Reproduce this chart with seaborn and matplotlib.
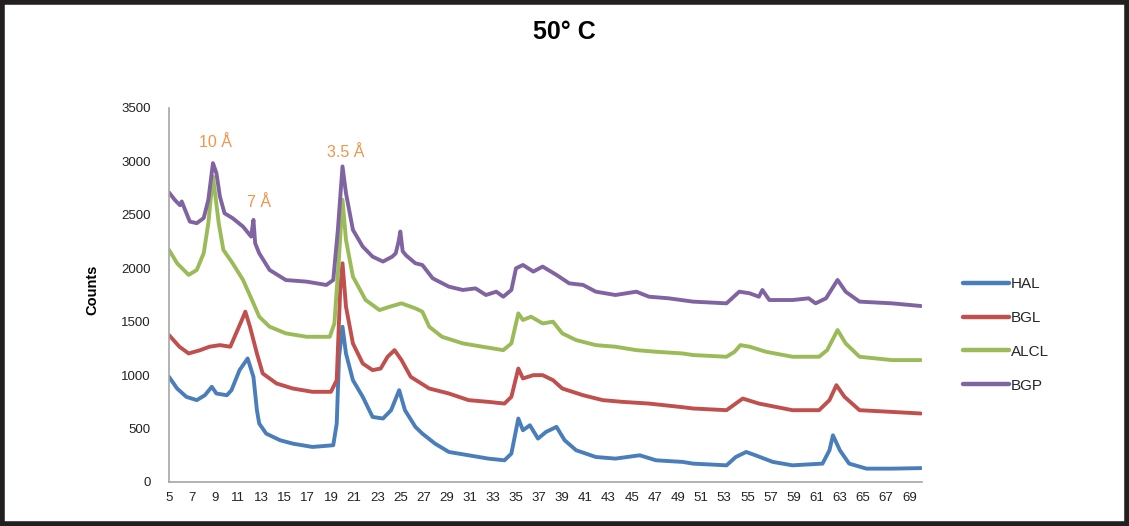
import matplotlib
matplotlib.use("Agg")
import matplotlib.pyplot as plt
import matplotlib.patches as mpatches
from matplotlib.lines import Line2D
import seaborn as sns
import pandas as pd

# ---------------- data ----------------
series_names = ["HAL", "BGL", "ALCL", "BGP"]
series_colors = ["#4A7EBB", "#C0504D", "#9BBB59", "#8064A2"]

hal_x = [5.0, 5.7, 6.5, 7.4, 8.1, 8.7, 9.1, 10.0, 10.4, 11.1, 11.8, 12.3, 12.6, 12.8,
         13.4, 14.6, 15.7, 17.4, 19.2, 19.5, 19.7, 20.0, 20.3, 20.9, 21.75, 22.6,
         23.5, 24.2, 24.9, 25.4, 26.3, 26.9, 28.0, 29.2, 30.9, 32.6, 34.0, 34.6,
         35.2, 35.6, 36.2, 36.9, 37.6, 38.5, 39.2, 40.2, 41.9, 43.6, 45.7, 47.1,
         49.4, 50.3, 53.2, 54.0, 54.9, 55.7, 57.2, 58.9, 61.5, 62.1, 62.4, 63.0,
         63.8, 65.3, 67.5, 70.0]
hal_y = [984, 875, 797, 766, 812, 891, 828, 812, 859, 1047, 1156, 984, 672, 547,
         453, 391, 359, 328, 344, 547, 1172, 1453, 1203, 953, 797, 609,
         594, 672, 859, 672, 516, 453, 359, 281, 250, 219, 203, 266,
         594, 484, 531, 406, 469, 516, 391, 297, 234, 219, 250, 203,
         188, 172, 156, 234, 281, 250, 188, 156, 172, 297, 437, 297,
         172, 125, 125, 130]

bgl_x = [5.0, 5.9, 6.7, 7.7, 8.5, 9.4, 10.3, 10.8, 11.3, 11.6, 12.0, 12.6, 13.1,
         14.3, 15.7, 17.4, 19.0, 19.5, 19.8, 20.0, 20.3, 20.9, 21.75, 22.6, 23.3,
         23.9, 24.5, 25.1, 25.9, 27.5, 29.2, 30.9, 32.6, 34.0, 34.6, 35.2, 35.6,
         36.5, 37.3, 38.2, 39.0, 40.8, 42.5, 44.2, 46.5, 49.4, 50.3, 53.2, 54.6,
         56.0, 58.9, 61.2, 62.1, 62.7, 63.4, 64.7, 67.5, 70.0]
bgl_y = [1375, 1266, 1203, 1234, 1266, 1281, 1266, 1391, 1516, 1594, 1453, 1203, 1016,
         922, 875, 844, 844, 953, 1797, 2047, 1641, 1297, 1109, 1047, 1062,
         1172, 1234, 1141, 984, 875, 828, 766, 750, 734, 797, 1062, 969,
         1000, 1000, 953, 875, 812, 766, 750, 734, 700, 688, 672, 781,
         734, 672, 672, 766, 906, 797, 672, 656, 641]

alcl_x = [5.0, 5.7, 6.7, 7.4, 8.0, 8.4, 8.8, 9.3, 9.7, 10.5, 11.4, 12.3, 12.8,
          13.7, 15.1, 16.9, 18.9, 19.3, 19.7, 20.0, 20.3, 20.9, 22.0, 23.2, 24.1,
          25.1, 26.3, 26.9, 27.5, 28.6, 30.4, 32.1, 33.9, 34.6, 35.2, 35.6, 36.3,
          37.3, 38.2, 39.0, 40.2, 41.9, 43.6, 45.4, 47.1, 49.4, 50.3, 53.2, 53.9,
          54.4, 55.2, 56.6, 58.9, 61.2, 61.9, 62.8, 63.5, 64.7, 67.5, 70.0]
alcl_y = [2172, 2047, 1938, 1984, 2141, 2422, 2859, 2422, 2172, 2047, 1891, 1672, 1547,
          1453, 1391, 1359, 1359, 1484, 2109, 2641, 2266, 1922, 1703, 1609, 1641,
          1672, 1625, 1594, 1453, 1359, 1297, 1266, 1234, 1297, 1578, 1516, 1547,
          1484, 1500, 1391, 1328, 1281, 1266, 1234, 1219, 1203, 1188, 1172, 1219,
          1281, 1266, 1219, 1172, 1172, 1234, 1422, 1297, 1172, 1141, 1141]

bgp_x = [5.0, 5.5, 5.95, 6.1, 6.8, 7.4, 8.0, 8.4, 8.8, 9.1, 9.4, 9.8, 10.5, 11.4,
         12.1, 12.3, 12.45, 12.8, 13.7, 15.1, 16.9, 18.6, 19.2, 19.6, 20.0, 20.3,
         20.9, 21.75, 22.6, 23.5, 24.3, 24.6, 24.85, 25.0, 25.2, 25.5, 26.3, 26.9,
         27.8, 29.2, 30.4, 31.5, 32.4, 33.3, 33.9, 34.6, 35.0, 35.6, 36.5, 37.3,
         38.5, 39.6, 40.8, 41.9, 43.6, 45.4, 46.5, 48.2, 50.3, 53.2, 54.3, 55.2,
         56.0, 56.3, 56.9, 58.9, 60.3, 60.9, 61.8, 62.8, 63.5, 64.7, 67.5, 70.0]
bgp_y = [2710, 2640, 2590, 2625, 2437, 2422, 2470, 2640, 2984, 2890, 2672, 2515, 2469, 2390,
         2297, 2453, 2234, 2140, 1984, 1890, 1875, 1844, 1890, 2360, 2953, 2703,
         2360, 2203, 2109, 2063, 2109, 2140, 2250, 2344, 2160, 2120, 2047, 2031,
         1906, 1828, 1797, 1812, 1750, 1781, 1734, 1797, 2000, 2031, 1969, 2016,
         1938, 1859, 1844, 1781, 1750, 1781, 1734, 1719, 1688, 1672, 1781, 1766,
         1734, 1797, 1703, 1703, 1719, 1672, 1719, 1891, 1781, 1688, 1672, 1647]

annot_texts = ["10 Å", "7 Å", "3.5 Å"]
annot_x = [9.05, 12.8, 20.3]
annot_y = [3175, 2620, 3080]

x_ticks = list(range(5, 70, 2))
y_ticks = list(range(0, 3501, 500))
title_text = "50° C"
y_label = "Counts"

# ---------------- build frame ----------------
frames = []
for name, xs, ys in zip(series_names,
                        [hal_x, bgl_x, alcl_x, bgp_x],
                        [hal_y, bgl_y, alcl_y, bgp_y]):
    frames.append(pd.DataFrame({"angle": xs, "counts": ys, "series": name}))
df = pd.concat(frames, ignore_index=True)

# ---------------- plot ----------------
sns.set_theme(style="white")
plt.rcParams["font.family"] = ["Liberation Sans", "DejaVu Sans"]

fig = plt.figure(figsize=(11.29, 5.26), dpi=100)
ax = fig.add_axes([169 / 1129, 1 - 482 / 526, (922 - 169) / 1129, (482 - 108) / 526])

sns.lineplot(data=df, x="angle", y="counts", hue="series", hue_order=series_names,
             palette=series_colors, estimator=None, sort=True, linewidth=2.8,
             legend=False, ax=ax)

ax.set_xlim(5, 70.1)
ax.set_ylim(0, 3500)
ax.set_xticks(x_ticks)
ax.set_xticklabels([str(t) for t in x_ticks], fontsize=9.5, color="#222222")
ax.set_yticks(y_ticks)
ax.set_yticklabels([str(t) for t in y_ticks], fontsize=9.5, color="#222222")
ax.tick_params(axis="x", length=0, pad=7)
ax.tick_params(axis="y", length=0, pad=13)
ax.set_xlabel("")
ax.set_ylabel("")
for side in ["top", "right"]:
    ax.spines[side].set_visible(False)
for side in ["left", "bottom"]:
    ax.spines[side].set_color("#A6A6A6")
    ax.spines[side].set_linewidth(1.2)
ax.grid(False)

for t, xv, yv in zip(annot_texts, annot_x, annot_y):
    ax.text(xv, yv, t, color="#F0944A", fontsize=11.5, ha="center", va="center")

fig.text(0.5, 1 - 32 / 526, title_text, ha="center", va="center",
         fontsize=18, fontweight="bold", color="black")
fig.text(92 / 1129, 1 - 290 / 526, y_label, ha="center", va="center",
         rotation=90, fontsize=10.5, fontweight="bold", color="black")

handles = [Line2D([0], [0], color=c, lw=3.2) for c in series_colors]
leg = fig.legend(handles, series_names, loc="upper left",
                 bbox_to_anchor=(957 / 1129, 1 - 271 / 526), frameon=False,
                 fontsize=11, handlelength=3.0, handletextpad=0.1,
                 labelspacing=1.3, borderaxespad=0)

border = mpatches.Rectangle((0.002, 0.004), 0.996, 0.992, transform=fig.transFigure,
                            fill=False, edgecolor="#231F20", linewidth=4)
fig.add_artist(border)

fig.savefig("out.png", dpi=100, facecolor="white")
